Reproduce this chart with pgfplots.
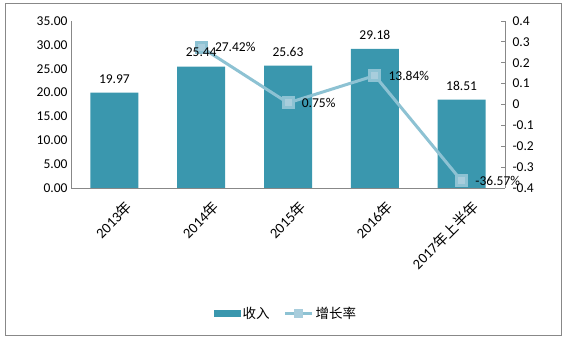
\documentclass[border=0pt]{standalone}
\usepackage{pgfplots}
\pgfplotsset{compat=1.18}
\usepackage{fontspec}
\setmainfont{Carlito}
\newfontfamily\cjk{Noto Sans CJK SC}
\definecolor{barc}{HTML}{3A97AE}
\definecolor{linec}{HTML}{8DC2D3}
\definecolor{markc}{HTML}{A8CDDC}
\definecolor{axc}{HTML}{888888}
\begin{document}
\begin{tikzpicture}[x=1pt,y=1pt]
\path (0,0) rectangle (568,342);
\draw[axc, line width=0.8pt] (5,7) rectangle (561,339);
\begin{axis}[at={(71pt,154pt)}, anchor=south west, scale only axis,
  width=434pt, height=167pt,
  xmin=-0.5, xmax=4.5, ymin=0, ymax=35, ytick={0,5,...,35},
  axis y line*=left, axis x line*=bottom,
  axis line style={axc, line width=0.8pt, -},
  major tick length=0pt,
  xtick={0,1,2,3,4},
  xticklabels={2013{\cjk 年},2014{\cjk 年},2015{\cjk 年},2016{\cjk 年},2017{\cjk 年上半年}},
  xticklabel style={rotate=45, anchor=north east, inner sep=1pt, xshift=0pt, yshift=-14pt, font=\fontsize{14.5}{14.5}\selectfont},
  yticklabel style={font=\fontsize{13.5}{13.5}\selectfont, /pgf/number format/.cd, fixed, fixed zerofill, precision=2, assume math mode=true},
  legend style={at={(0.495,-0.749)}, anchor=center, draw=none, fill=none,
    legend columns=2, font=\fontsize{13.5}{13.5}\selectfont\cjk,
    /tikz/every even column/.append style={column sep=12pt}},
  ]
\addplot[fill=barc, draw=none, ybar, bar width=48pt,
  legend image code/.code={\fill[barc] (0pt,-3.5pt) rectangle (27pt,3.5pt);}]
  coordinates {(0,19.97) (1,25.44) (2,25.63) (3,29.18) (4,18.51)};
\addlegendentry{收入}
\addlegendimage{legend image code/.code={\draw[linec, line width=3pt] (0pt,0pt)--(27pt,0pt); \fill[markc] (9.5pt,-4pt) rectangle (17.5pt,4pt);}}
\addlegendentry{增长率}
\end{axis}
\begin{axis}[at={(71pt,154pt)}, anchor=south west, scale only axis,
  width=434pt, height=167pt,
  xmin=-0.5, xmax=4.5, ymin=-0.4, ymax=0.4,
  ytick={-0.4,-0.3,-0.2,-0.1,0,0.1,0.2,0.3,0.4},
  yticklabels={-0.4,-0.3,-0.2,-0.1,0,0.1,0.2,0.3,0.4},
  axis y line*=right, axis x line=none,
  axis line style={axc, line width=0.8pt, -},
  tick align=inside, major tick length=4pt, ytick style={axc, line width=0.8pt},
  yticklabel style={font=\fontsize{13.5}{13.5}\selectfont, anchor=west, xshift=4pt},
  ]
\addplot[linec, line width=3pt, mark=square*, mark size=5pt,
  mark options={fill=markc, draw=none},
  point meta=explicit symbolic,
  nodes near coords,
  every node near coord/.append style={font=\fontsize{13.5}{13.5}\selectfont, anchor=west, xshift=9pt, text=black}]
  coordinates {(1,0.2742)[27.42\%] (2,0.0075)[0.75\%] (3,0.1384)[13.84\%] (4,-0.3657)[-36.57\%]};
\end{axis}
\begin{axis}[at={(71pt,154pt)}, anchor=south west, scale only axis,
  width=434pt, height=167pt,
  xmin=-0.5, xmax=4.5, ymin=0, ymax=35, hide axis]
\addplot[draw=none, fill=none, ybar, bar width=48pt,
  nodes near coords={\pgfmathprintnumber[fixed,fixed zerofill,precision=2,assume math mode=true]{\pgfplotspointmeta}},
  every node near coord/.append style={font=\fontsize{13.5}{13.5}\selectfont, anchor=south, yshift=6pt, text=black}]
  coordinates {(0,19.97) (1,25.44) (2,25.63) (3,29.18) (4,18.51)};
\end{axis}
\end{tikzpicture}
\end{document}
